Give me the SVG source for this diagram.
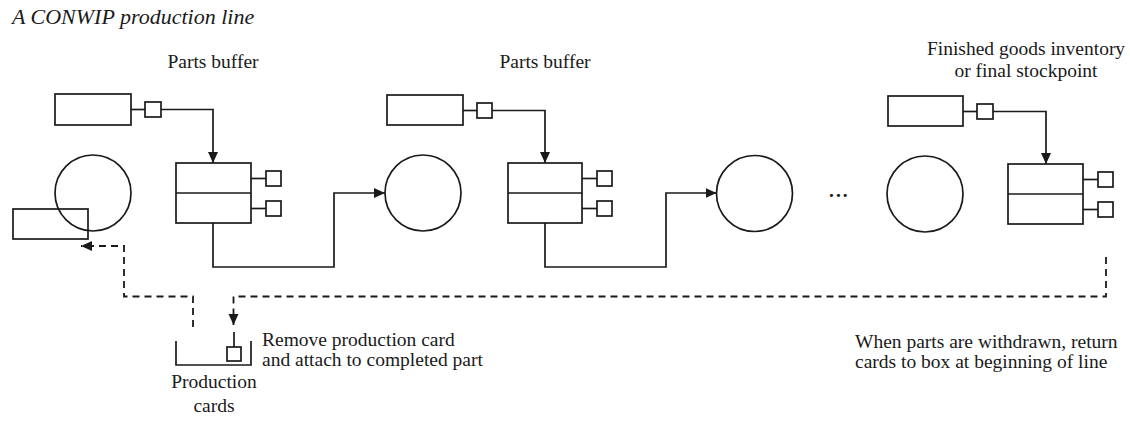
<svg xmlns="http://www.w3.org/2000/svg" width="1130" height="427" viewBox="0 0 1130 427">
<style>
.s{fill:none;stroke:#1a1a1a;stroke-width:1.7}
.d{fill:none;stroke:#1a1a1a;stroke-width:1.8;stroke-dasharray:7 5}
.t{font-family:"Liberation Serif","Times New Roman",serif;font-size:19.5px;fill:#1a1a1a}
.ti{font-family:"Liberation Serif","Times New Roman",serif;font-size:22px;font-style:italic;fill:#1a1a1a}
.c{text-anchor:middle}
</style>
<defs>
<marker id="ah" markerUnits="userSpaceOnUse" markerWidth="12" markerHeight="12" refX="11" refY="5" orient="auto" viewBox="0 0 12 10">
<path d="M0,0 L11,5 L0,10 z" fill="#1a1a1a"/>
</marker>
</defs>
<rect width="1130" height="427" fill="#ffffff"/>
<text class="ti" x="12" y="24">A CONWIP production line</text>

<g id="station1">
<circle class="s" cx="93" cy="193" r="38"/>
<rect class="s" x="13" y="209" width="75" height="30"/>
</g>
<g id="kanban1">
<rect class="s" x="55" y="94" width="76" height="31"/>
<line class="s" x1="131" y1="109.5" x2="145" y2="109.5"/>
<rect class="s" x="145" y="102" width="16" height="15"/>
</g>
<g id="buffer1">
<text class="t c" x="213" y="68">Parts buffer</text>
<rect class="s" x="176" y="163" width="75" height="60"/>
<line class="s" x1="176" y1="193" x2="251" y2="193"/>
<line class="s" x1="251" y1="178.5" x2="266" y2="178.5"/>
<rect class="s" x="266" y="171" width="15" height="15"/>
<line class="s" x1="251" y1="208.5" x2="266" y2="208.5"/>
<rect class="s" x="266" y="201" width="15" height="15"/>
</g>
<g id="station2">
<circle class="s" cx="423" cy="193" r="38"/>
</g>
<g id="kanban2">
<rect class="s" x="387" y="95" width="76" height="30"/>
<line class="s" x1="463" y1="110.5" x2="477" y2="110.5"/>
<rect class="s" x="477" y="103" width="15" height="15"/>
</g>
<g id="buffer2">
<text class="t c" x="545" y="68">Parts buffer</text>
<rect class="s" x="508" y="163" width="74" height="60"/>
<line class="s" x1="508" y1="193" x2="582" y2="193"/>
<line class="s" x1="582" y1="178.5" x2="597" y2="178.5"/>
<rect class="s" x="597" y="171" width="15" height="15"/>
<line class="s" x1="582" y1="208.5" x2="597" y2="208.5"/>
<rect class="s" x="597" y="201" width="15" height="15"/>
</g>
<g id="station3">
<circle class="s" cx="754.5" cy="193.5" r="38"/>
</g>
<g id="ellipsis">
<text class="t" x="829" y="197" font-weight="bold" letter-spacing="2">...</text>
</g>
<g id="station4">
<circle class="s" cx="925" cy="194" r="38"/>
</g>
<g id="kanban3">
<rect class="s" x="888" y="96" width="75" height="30"/>
<line class="s" x1="963" y1="111.5" x2="977" y2="111.5"/>
<rect class="s" x="977" y="104" width="16" height="15"/>
</g>
<g id="buffer3">
<text class="t c" x="1026" y="55">Finished goods inventory</text>
<text class="t c" x="1026" y="77">or final stockpoint</text>
<rect class="s" x="1008" y="164" width="75" height="60"/>
<line class="s" x1="1008" y1="194" x2="1083" y2="194"/>
<line class="s" x1="1083" y1="179.5" x2="1098" y2="179.5"/>
<rect class="s" x="1098" y="172" width="15" height="15"/>
<line class="s" x1="1083" y1="209.5" x2="1098" y2="209.5"/>
<rect class="s" x="1098" y="202" width="15" height="15"/>
</g>
<g id="production-cards">
<path class="s" d="M176,341 V365 H251 V341"/>
<rect class="s" x="227" y="347" width="14" height="14"/>
<text class="t c" x="214" y="388">Production</text>
<text class="t c" x="214" y="412">cards</text>
<text class="t" x="262" y="346">Remove production card</text>
<text class="t" x="262" y="366">and attach to completed part</text>
</g>
<g id="note">
<text class="t" x="855" y="348">When parts are withdrawn, return</text>
<text class="t" x="855" y="368">cards to box at beginning of line</text>
</g>

<g id="connectors">
<path class="s" d="M161,109.5 H213 V163" marker-end="url(#ah)"/>
<path class="s" d="M492,110.5 H545 V163" marker-end="url(#ah)"/>
<path class="s" d="M993,111.5 H1046 V164" marker-end="url(#ah)"/>
<path class="s" d="M213,223 V267 H334 V193 H385" marker-end="url(#ah)"/>
<path class="s" d="M545,223 V267 H666 V193 H716.5" marker-end="url(#ah)"/>
<path class="d" d="M1106,257 V296.5 H233.5 V325" marker-end="url(#ah)"/>
<line class="s" x1="234" y1="332" x2="234" y2="347"/>
<path class="d" d="M193,327 V296.5 H124 V246 H81" marker-end="url(#ah)"/>
</g>
</svg>
